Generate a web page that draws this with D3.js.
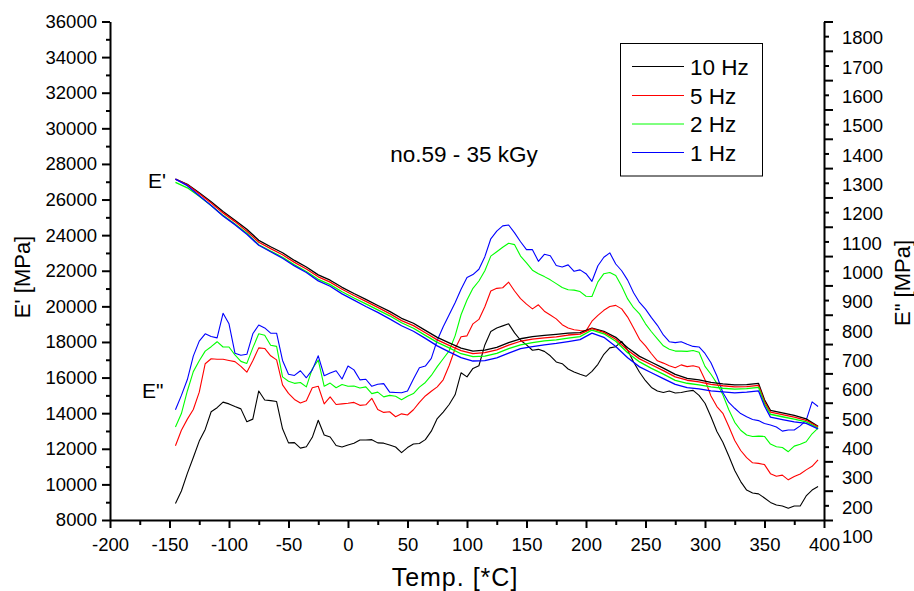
<!DOCTYPE html>
<html><head><meta charset="utf-8">
<script src="https://cdn.jsdelivr.net/npm/d3@7"></script>
<style>
body{margin:0;background:#fff;}
svg{display:block;background:#fff;}
text{font-family:"Liberation Sans",Arial,sans-serif;fill:#000;}
</style>
</head><body>
<svg id="c" width="914" height="591"></svg>
<script>
// ---------------- DATA ----------------
const seriesNames = ["10 Hz", "5 Hz", "2 Hz", "1 Hz"];
const seriesColors = ["#000000", "#ff0000", "#00ff00", "#0000ff"];

const xTicks = [-200,-150,-100,-50,0,50,100,150,200,250,300,350,400];
const yLeftTicks = [8000,10000,12000,14000,16000,18000,20000,22000,24000,26000,28000,30000,32000,34000,36000];
const yRightTicks = [100,200,300,400,500,600,700,800,900,1000,1100,1200,1300,1400,1500,1600,1700,1800];

// E' (storage modulus, left axis, MPa)
const tempE1 = [-145,-135,-125,-115,-105,-95,-85,-75,-65,-55,-45,-35,-25,-15,-5,5,15,25,35,45,55,65,75,85,95,105,115,125,135,145,155,165,175,185,195,205,215,225,235,245,255,265,275,285,295,305,315,325,335,345,350,355,365,375,385,395];
const E1_10Hz = [27150,26860,26380,25880,25330,24840,24330,23710,23350,23010,22580,22210,21770,21470,21070,20720,20390,20050,19720,19330,19050,18650,18260,17950,17650,17490,17540,17700,17960,18180,18300,18370,18430,18500,18520,18780,18600,18260,17670,17190,16860,16530,16180,15960,15870,15730,15650,15590,15600,15670,14750,14160,14020,13880,13680,13260];
const E1_5Hz  = [27150,26830,26320,25800,25250,24760,24220,23600,23240,22900,22470,22100,21660,21360,20960,20610,20280,19940,19590,19200,18920,18520,18120,17810,17510,17350,17400,17560,17820,18040,18160,18230,18290,18390,18440,18750,18540,18150,17530,17050,16720,16390,16040,15850,15760,15620,15540,15480,15490,15560,14650,14060,13920,13780,13600,13230];
const E1_2Hz  = [26960,26660,26180,25660,25110,24620,24110,23460,23100,22760,22330,21960,21520,21220,20820,20470,20140,19800,19470,19080,18770,18370,17980,17670,17340,17180,17200,17360,17620,17840,17960,18060,18120,18220,18300,18670,18460,18040,17390,16880,16520,16190,15840,15680,15590,15480,15400,15350,15380,15450,14530,13940,13800,13660,13510,13170];
const E1_1Hz  = [27150,26780,26210,25660,25080,24590,24050,23430,23070,22700,22270,21900,21430,21130,20700,20350,19990,19660,19300,18910,18600,18200,17780,17440,17120,16930,16950,17110,17370,17620,17740,17840,17920,18020,18130,18500,18260,17750,17110,16600,16270,15940,15620,15430,15360,15250,15200,15140,15180,15250,14400,13780,13640,13510,13430,13120];

// E'' (loss modulus, right axis, MPa)
const tempE2 = [-145,-140,-135,-130,-125,-120,-115,-110,-105,-100,-95,-90,-85,-80,-75,-70,-65,-60,-55,-50,-45,-40,-35,-30,-25,-20,-15,-10,-5,0,5,10,15,20,25,30,35,40,45,50,55,60,65,70,75,80,85,90,95,100,105,110,115,120,125,130,135,140,145,150,155,160,165,170,175,180,185,190,195,200,205,210,215,220,225,230,235,240,245,250,255,260,265,270,275,280,285,290,295,300,305,310,315,320,325,330,335,340,345,350,355,360,365,370,375,380,385,390,395];
const E2_10Hz = [156,199,259,313,369,409,469,483,502,496,
  487,479,435,444,540,509,507,504,411,363,
  364,345,350,382,440,390,383,354,349,356,
  362,373,373,374,363,362,356,349,330,347,
  359,361,374,403,446,468,494,527,602,588,
  617,626,697,743,755,762,769,738,713,697,
  679,682,675,660,639,633,615,605,597,590,
  607,631,665,687,691,709,679,639,604,575,
  552,540,535,540,533,535,539,542,525,498,
  452,402,365,318,269,231,202,192,189,175,
  160,151,148,140,148,148,182,202,214];
const E2_5Hz = [353,406,444,477,536,633,650,648,648,644,
  640,624,604,643,687,685,660,646,561,532,
  511,499,507,551,556,496,520,494,496,498,
  501,491,493,515,477,467,469,452,462,458,
  476,501,523,539,554,578,627,684,725,728,
  769,784,827,881,890,892,911,881,855,836,
  820,834,812,799,786,766,755,749,746,745,
  778,798,815,828,832,820,792,755,716,694,
  667,643,635,626,619,629,623,626,621,578,
  523,487,464,419,371,337,313,295,293,289,
  258,249,253,237,248,257,271,283,305];
const E2_2Hz = [417,463,540,606,643,676,691,708,690,690,
  663,641,634,687,735,730,696,692,588,573,
  566,569,554,616,645,556,567,551,562,556,
  557,550,554,531,536,520,525,522,510,522,
  531,553,569,593,623,650,677,728,800,850,
  890,915,950,1000,1015,1030,1044,1039,1000,977,
  952,940,930,919,906,893,885,884,879,863,
  862,912,940,944,934,897,854,824,803,769,
  742,718,694,682,676,676,675,678,672,624,
  597,566,527,476,433,406,390,385,386,385,
  359,350,347,333,352,358,367,394,413];
const E2_1Hz = [476,525,579,659,710,735,726,721,805,769,
  669,662,665,735,765,755,737,737,644,597,
  593,609,585,612,660,592,601,609,581,625,
  612,578,580,556,563,565,536,535,534,540,
  581,619,625,651,713,759,800,841,887,927,
  937,955,998,1059,1085,1103,1106,1079,1049,1022,
  1022,982,1006,1001,968,963,970,948,953,940,
  914,967,996,1011,973,950,918,875,842,819,
  790,764,731,708,705,708,699,692,690,668,
  636,591,535,501,481,463,452,443,439,429,
  424,417,403,407,407,421,440,503,487];

// ---------------- CHART ----------------
const svg = d3.select("#c");
const FS_TICK = "18.5px";
const fmt = d => String(d);

const x = d3.scaleLinear().domain([-200, 400]).range([110, 824]);
const yL = d3.scaleLinear().domain([8000, 36000]).range([520, 21.5]);
const yR = d3.scaleLinear().domain([100, 1800]).range([520, 21.5]);

function styleAxis(g) {
  g.select(".domain").attr("stroke", "#000").attr("stroke-width", 2);
  g.selectAll(".tick line").attr("stroke", "#000").attr("stroke-width", 2);
  g.selectAll(".tick text").style("font-size", FS_TICK).attr("fill", "#000");
}

// E'' lines
const e2Series = [E2_10Hz, E2_5Hz, E2_2Hz, E2_1Hz];
const lineE2 = d3.line().x((d, i) => x(tempE2[i])).y(d => yR(d));
svg.append("g").selectAll("path").data(e2Series).join("path")
  .attr("d", d => lineE2(d))
  .attr("fill", "none")
  .attr("stroke", (d, i) => seriesColors[i])
  .attr("stroke-width", 1.1)
  .attr("stroke-linejoin", "round");

// E' lines
const e1Series = [E1_10Hz, E1_5Hz, E1_2Hz, E1_1Hz];
const lineE1 = d3.line().x((d, i) => x(tempE1[i])).y(d => yL(d));
svg.append("g").selectAll("path").data(e1Series).join("path")
  .attr("d", d => lineE1(d))
  .attr("fill", "none")
  .attr("stroke", (d, i) => seriesColors[i])
  .attr("stroke-width", 1.3)
  .attr("stroke-linejoin", "round");

// Bottom axis
const xMinor = xTicks.slice(0, -1).map((t, i) => (t + xTicks[i + 1]) / 2);
svg.append("g").attr("transform", "translate(0,520)")
  .call(d3.axisBottom(x).tickValues(xMinor).tickSize(5).tickFormat(""))
  .call(g => { styleAxis(g); g.select(".domain").remove(); });
svg.append("g").attr("transform", "translate(0,520)")
  .call(d3.axisBottom(x).tickValues(xTicks).tickSize(8).tickSizeOuter(0).tickPadding(10).tickFormat(fmt))
  .call(styleAxis);

// Left axis
const yLMinor = yLeftTicks.slice(0, -1).map((t, i) => (t + yLeftTicks[i + 1]) / 2);
svg.append("g").attr("transform", "translate(110,0)")
  .call(d3.axisLeft(yL).tickValues(yLMinor).tickSize(4).tickFormat(""))
  .call(g => { styleAxis(g); g.select(".domain").remove(); });
svg.append("g").attr("transform", "translate(110,0)")
  .call(d3.axisLeft(yL).tickValues(yLeftTicks).tickSize(8).tickSizeOuter(0).tickPadding(5).tickFormat(fmt))
  .call(styleAxis);

// Right axis
const yRMinor = yRightTicks.slice(0, -1).map((t, i) => (t + yRightTicks[i + 1]) / 2);
svg.append("g").attr("transform", "translate(824,0)")
  .call(d3.axisRight(yR).tickValues(yRMinor).tickSize(5).tickFormat(""))
  .call(g => { styleAxis(g); g.select(".domain").remove(); });
svg.append("g").attr("transform", "translate(824,0)")
  .call(d3.axisRight(yR).tickValues(yRightTicks).tickSize(9).tickSizeOuter(0).tickPadding(9).tickFormat(fmt))
  .call(styleAxis)
  .call(g => g.selectAll(".tick text").attr("transform", "translate(0,16.5)"));

// Axis titles
svg.append("text").attr("transform", "translate(30,277) rotate(-90)")
  .attr("text-anchor", "middle").style("font-size", "22px").text("E' [MPa]");
svg.append("text").attr("transform", "translate(910,283) rotate(-90)")
  .attr("text-anchor", "middle").style("font-size", "22px").text('E" [MPa]');
svg.append("text").attr("x", 455).attr("y", 586)
  .attr("text-anchor", "middle").style("font-size", "25px").style("letter-spacing", "1px").text("Temp. [*C]");

// Annotations
svg.append("text").attr("x", 464).attr("y", 162)
  .attr("text-anchor", "middle").style("font-size", "22.5px").text("no.59 - 35 kGy");
svg.append("text").attr("x", 148).attr("y", 188).style("font-size", "21px").text("E'");
svg.append("text").attr("x", 142).attr("y", 398).style("font-size", "21px").text('E"');

// Legend
const lg = svg.append("g");
lg.append("rect").attr("x", 620.5).attr("y", 43.5).attr("width", 142).attr("height", 132.5)
  .attr("fill", "#fff").attr("stroke", "#000").attr("stroke-width", 1);
const legendY = [66.5, 95.5, 124, 152.5];
seriesNames.forEach((n, i) => {
  lg.append("line").attr("x1", 632).attr("x2", 684).attr("y1", legendY[i]).attr("y2", legendY[i])
    .attr("stroke", seriesColors[i]).attr("stroke-width", 1);
  lg.append("text").attr("x", 690).attr("y", legendY[i]).attr("dy", "0.36em")
    .style("font-size", "22.5px").text(n);
});
</script>
</body></html>
